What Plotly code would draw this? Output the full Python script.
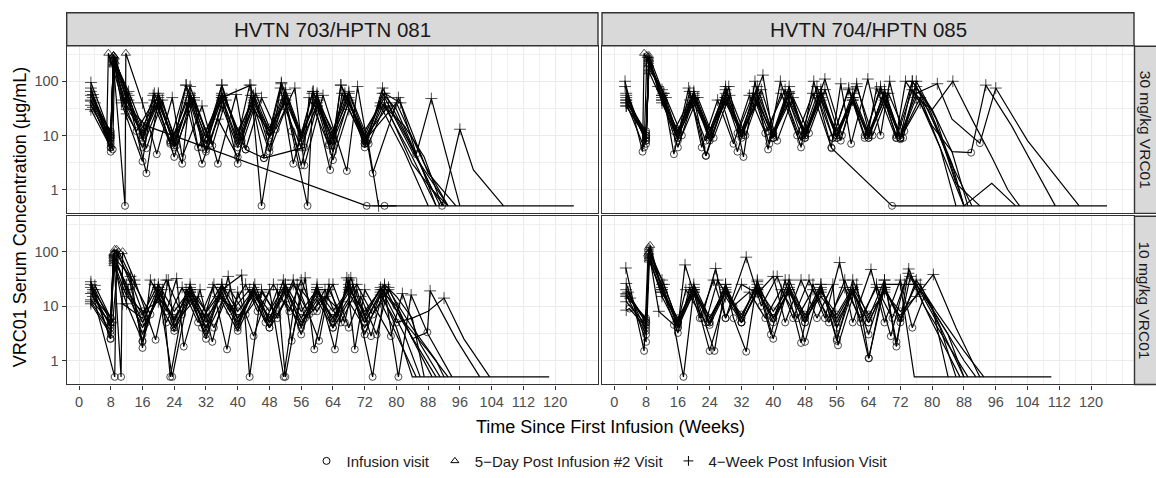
import plotly.graph_objects as go

# ---------------- data ----------------
studies = ["HVTN 703/HPTN 081", "HVTN 704/HPTN 085"]
doses = ["30 mg/kg VRC01", "10 mg/kg VRC01"]
x_tick_vals = [0, 8, 16, 24, 32, 40, 48, 56, 64, 72, 80, 88, 96, 104, 112, 120]
x_tick_text = ["0", "8", "16", "24", "32", "40", "48", "56", "64", "72", "80", "88", "96", "104", "112", "120"]
y_tick_vals = [1, 10, 100]
y_tick_text = ["1", "10", "100"]
visit_names = {"I": "Infusion visit", "P": "5\u2212Day Post Infusion #2 Visit", "W": "4\u2212Week Post Infusion Visit"}

# each participant: "week,concentration,visit" tokens (visit: I infusion, P 5-day post #2, W 4-week post, . other)
hvtn703_30 = [
    "3,95,W 8,10,I 8.7,300,P 12,60,W 16,12,I 19,60,W 24,7.5,I 27,85,W 32,9,I 36,85,W 40,9,I 43,85,W 48,12,I 51,95,W 56,10,I 59,65,W 64,8,I 66,85,W 72.5,7.5,I 76.5,75,W 82,12,. 87,2,. 91,0.5,.",
    "3,75,W 8,5,I 8.7,250,P 10.7,40,W 16,3.3,I 18.7,55,W 23,7.5,I 29,50,W 31,6,I 36,55,W 40,3,I 43.3,55,W 46.6,3.8,I 50.8,75,W 54,3,I 58.8,60,W 63.3,2.3,I 66.3,60,W 72,7,I 77,40,W 84,3,. 92,0.5,.",
    "3.5,57,W 8.5,5.5,I 9,280,P 12.5,45,W 17,2,I 20,50,W 26,3,I 28,60,W 33.6,6.5,I 37,45,W 42,5.5,I 46,50,W 49.6,13,I 54.4,75,W 56.8,2.8,I 61.5,55,W 67.5,2.2,I 70.2,80,W 74,2,I 80.5,50,W 88,2,. 95,0.5,.",
    "3,43,W 8,9,I 8.7,220,P 12,35,W 17,15,I 72.5,0.5,I 124.7,0.5,.",
    "3,30,W 8,6,I 8.7,200,P 11.6,0.5,I 11.8,330,P 16,40,W 19.6,4.5,I 23.5,50,W 26,4,I 31,35,W 35,3,I 39.6,57,W 42,5.5,I 46.6,3.8,I 56.8,6,I 58,50,W 63,6.5,I 67,55,W 73,7,I 77,35,W 84,4,. 90,0.5,.",
    "3.5,50,W 7,12,I 7.4,330,P 12,25,W 14.5,12,I 19,45,W 23,8,I 27,85,W 30,6,I 36,50,W 43.3,85,W 46,0.5,I 51,90,W 53.6,12,I 57.6,0.5,I 59,65,W 64,6.5,I 66,85,W 72.8,8,I 75.5,0.5,W 77,0.5,I 80,0.5,.",
    "4,40,W 8,11,I 8.7,260,P 12.5,65,W 16,14,I 20,55,W 24,6,I 28,50,W 32,5.5,I 36,85,W 40,10,I 44,55,W 48,6,I 52,55,W 56,9,I 60,55,W 64,10,I 68,50,W 72,7,I 76.5,60,W 80,30,. 86,3,. 90,0.5,.",
    "3,36,W 8,8,I 9,230,P 13,40,W 17,5.8,I 21,45,W 24.5,6.5,I 29,45,W 33,7,I 36.5,55,W 41,8,I 44.5,60,W 48,14,I 52,40,W 55,6,I 60,60,W 63,7,I 67,60,W 72,9,I 78,35,W 84,5,. 93,0.5,.",
    "3,55,W 8,9,I 8.7,270,P 12,50,W 16,10,I 20,45,W 24,6.5,I 28,55,W 32,9,I 36,45,W 40,7,I 44,40,W 48,10,I 52,60,W 56,8,I 60,35,W 64,9,I 68,60,W 72,10,I 77,60,W 81,40,W 85,4.5,I 88.8,48,W 96,0.5,.",
    "3,45,W 8,12,I 8.7,240,P 12,45,W 16,9,I 20,40,W 24,8,I 28,45,W 32,7,I 36,50,W 40,8,I 44,50,W 48,9,I 52,45,W 56,9,I 60,50,W 64,8,I 68,40,W 72,8,I 76,40,W 82,15,. 87,4,. 91.5,0.5,I 96,13,W 99.4,2.3,. 107,0.5,.",
    "3.5,33,W 8,7,I 8.7,300,P 11,45,W 16,11,I 19,35,W 23,7,I 27,40,W 31,3,I 35,20,W 40,4,I 44,30,W 48,12,I 52,45,W 56,2.8,I 60,35,W 64,3.5,I 68,30,W 72,8,I 80,40,W 87,3,. 93,0.5,.",
    "3,65,W 8,10,I 8.7,290,P 12.5,55,W 16,8,I 20,60,W 24,10,I 28,80,W 32,12,I 36,60,W 40,12,I 44,45,W 48,12,I 52,70,W 56,11,I 60,45,W 64,12,I 68,65,W 72,12,I 77,50,W 83,8,. 89,1,. 93,0.5,.",
    "4,28,W 8,6,I 8.7,210,P 12,30,W 16,6,I 20,35,W 24,4,I 28,40,W 32,5,I 36,35,W 40,6,I 44,35,W 48,5,I 52,30,W 56,6,I 60,40,W 64,5,I 68,45,W 72,6,I 76,35,W 82,5,. 88,0.5,.",
]

hvtn704_30 = [
    "2.7,100,W 7.1,5,I 7.5,330,P 12.3,60,W 15,4.5,I 18.7,75,W 23,4.2,I 28.8,80,W 32.5,4,I 35.4,100,W 38.7,5.5,I 41.8,100,W 47,6,I 50.2,100,W 54.6,6,I 57,90,W 59.6,7,I 63.8,110,W 67,10,I 69.3,100,W 72.7,9,I 76,100,W 81,20,. 88,0.5,.",
    "3,60,W 8,8,I 8.7,280,P 12,50,W 16,12,I 20,65,W 24,12,I 28,70,W 32,12,I 37.4,130,W 40,9,I 44,60,W 48,10,I 53,110,W 57.3,10,I 61,90,W 64,12,I 66,75,W 70.9,9,I 73.3,100,W 77,40,. 82,6,. 86,0.5,. 124,0.5,.",
    "3,45,W 8,10,I 8.7,250,P 12,45,W 16,6,I 20,50,W 23.1,4.2,I 28,50,W 31,11,I 35,60,W 38.7,12,I 42,60,W 46,10,I 50,60,W 54.7,5.8,I 69.9,0.5,I 86,0.5,.",
    "3,35,W 8,9,I 8.7,200,P 13,50,W 17,10,I 21,50,W 25,9,I 29,55,W 33,10,I 37,70,W 41,8,I 45,50,W 49,11,I 53,70,W 57,8,I 61,80,W 65,10,I 69,60,W 73,12,I 77,40,W 80,15,. 85,5,. 89.8,4.8,I 93.5,85,W 100,15,. 111,0.5,.",
    "3,50,W 8,11,I 8.7,230,P 12,55,W 16,11,I 20,60,W 24,10,I 28,60,W 32,10,I 36,60,W 40,11,I 44,65,W 48,11,I 52,70,W 56,10,I 60,60,W 64,11,I 68,60,W 72,10,I 76,60,W 81.3,90,W 85,20,. 92,7.2,I 96,75,W 104,8,. 117,0.5,.",
    "2.7,80,W 8,7,I 8.7,300,P 12,70,W 16,8,I 19,65,W 22,6,I 26,45,W 30,7,I 34,55,W 38,11,I 43,70,W 47,10,I 51,80,W 55,9,I 59,75,W 63,10,I 67,70,W 71,10,I 75,100,W 80,30,. 85,5,. 89,0.5,.",
    "3,40,W 7.5,6,I 8.2,300,P 11,80,W 15,12,I 19,45,W 23,8,I 27,45,W 31,5,I 35,60,W 39,7,I 43,50,W 47,8,I 51,55,W 55,9,I 59,70,W 63,9,I 67,80,W 71,9,I 75,70,W 79,30,. 84,4,. 90,0.5,.",
    "3,55,W 8,9,I 8.7,260,P 12,40,W 16,9,I 20,55,W 24,9,I 28,80,W 32,9,I 36,50,W 40,9,I 44,80,W 48,9,I 52,60,W 56,9,I 60,50,W 64,9,I 68,70,W 72,9,I 76,50,W 80,30,. 85.2,100,W 90,20,. 95,4,. 99,1,. 102,0.5,.",
    "3,35,W 8,10,I 8.7,170,P 12.5,60,W 16,10,I 20,40,W 24,10,I 28,50,W 32,12,I 36,80,W 40,10,I 44,40,W 48,10,I 52,60,W 56,10,I 60,50,W 64,10,I 68,60,W 72,8.5,I 76,80,W 82,10,. 86,1.3,. 92,0.5,.",
    "3,45,W 8,8,I 8.7,210,P 12,55,W 16,9,I 20,50,W 24,8,I 28,45,W 32,11,I 36,45,W 40,9,I 44,60,W 48,9,I 52,50,W 56,9,I 60,45,W 64,9,I 68,50,W 72,9,I 77,50,W 82,6,. 88,0.5,. 95,1.3,. 101,0.5,.",
    "3,40,W 8,12,I 8.7,150,P 12,45,W 16,12,I 20,50,W 24,12,I 28,40,W 32,11,I 36,40,W 40,11,I 44,45,W 48,12,I 52,45,W 56,12,I 60,45,W 64,10,I 68,45,W 72,9,I 75,100,W 79,35,. 85,3,. 88,0.5,.",
]

hvtn703_10 = [
    "3,28,W 8,2.5,I 8.7,80,P 13,35,W 16,1.7,I 18,30,W 22,8,I 24.6,32,W 26.4,1.8,I 30.5,20,W 33.6,2.2,I 37.6,35,W 40,5,I 44.3,25,W 48,5,I 51.5,30,W 53.6,2.3,I 57,33,W 59.3,1.6,I 63,25,W 66,5,I 70,20,W 73.6,2.8,I 77,23,W 81,6,. 86,1.5,. 90,0.5,.",
    "3,22,W 9,0.5,I 9.5,110,P 13,25,W 16,2.2,I 20,20,W 23.5,0.5,I 28,22,W 32,4,I 36,20,W 41,37,W 43,0.5,I 46,20,W 50,6,I 54,30,W 57,6,I 60,25,W 64.5,1.6,I 67.5,33,W 69.5,1.6,I 72,20,W 78.6,2.8,I 81.5,17,W 86,2,. 91,0.5,.",
    "3.5,18,W 8,4,I 8.7,90,P 10.6,0.5,I 11,100,P 14,30,W 19.3,2.4,I 22.5,30,W 24,4,I 28,18,W 31,4,I 33.7,22,W 37.3,1.6,I 40,18,W 44,2.8,I 48,20,W 51.6,0.5,I 55,25,W 60.5,2.3,I 63,20,W 67,5,I 69,25,W 74,0.5,I 77,20,W 80.5,0.5,I 83.7,16,W 88,3,. 94,0.5,.",
    "3,13,W 8,5,I 8.7,70,P 12,25,W 16,3,I 20,18,W 24,5.5,I 28,20,W 32,3.5,I 36,18,W 40,4,I 44,20,W 48,4,I 52,25,W 56,4,I 60,22,W 64,5,I 68,25,W 72,5,I 76,18,W 80,4,. 84,0.5,. 118.5,0.5,.",
    "3,11,W 8,3,I 8.7,60,P 12,11,W 16,2.3,I 20,22,W 24,4,I 28,15,W 32,2.5,I 36,25,W 40,4.5,I 44,22,W 48,5,I 52,18,W 56,3,I 60,20,W 64,4,I 68,30,W 72,3,I 76.5,20,W 82,5,. 88,1.5,. 93,0.5,.",
    "4,20,W 8,5,I 8.7,85,P 12.5,20,W 16,5,I 20,22,W 24,5,I 28,25,W 32,5,I 36,22,W 40,6,I 44,18,W 48,6,I 52,22,W 56,6,I 60,18,W 64,6,I 68,22,W 72,7,I 76,20,W 80,10,I 84,2.5,. 87.8,3.3,I 88.5,19,W 95,2.5,. 101,0.5,.",
    "3.5,15,W 8,6,I 8.7,95,P 12,18,W 16,4,I 20,15,W 24,6,I 28,18,W 32,6,I 36,15,W 40,6,I 44,16,W 48,6,I 52,20,W 56,5,I 60,15,W 64,6,I 68,18,W 72,5,I 76,16,W 80,5,I 84,6,. 88,8,. 92,14,W 97,2.5,. 103.5,0.5,.",
    "3,25,W 7.9,2.5,I 8.7,75,P 11,11,W 16,6,I 19,25,W 22,5,I 26,22,W 30,5,I 34,25,W 38,8,I 42,25,W 45,8,I 49,25,W 53,8,I 56,30,W 59,8,I 62,20,W 65,6,I 68.5,33,W 72,6,I 76,22,W 82,3,. 86,0.5,.",
    "3,17,W 8,4.5,I 9,110,P 13,30,W 17,5,I 21,20,W 23,0.5,I 27,20,W 31,6,I 35,15,W 39,9,I 43,20,W 47,5,I 50,20,W 52,0.5,I 56,20,W 60,8,I 64,25,W 68,4,I 71,15,W 75,3,I 78,22,W 84,2.5,. 89,0.5,.",
    "4,24,W 8.5,5,I 10,100,P 14,25,W 18,7,I 22,30,W 26,7,I 30,15,W 34,4,I 38,20,W 42,7,I 46,18,W 50,7,I 54,25,W 58,7,I 62,15,W 66,8,I 70,25,W 74,7,I 78,20,W 84,4,. 90,1,. 92,0.5,.",
    "3,12,W 8,3.5,I 8.7,65,P 12,15,W 16,8,I 20,12,W 24,3.5,I 28,13,W 32,3,I 36,12,W 40,3.5,I 44,14,W 48,4,I 52,12,W 56,4.5,I 60,13,W 64,4,I 68,12,W 72,4,I 76,12,W 80,3,. 85,0.5,.",
    "3.5,20,W 8,6,I 8.7,90,P 12,20,W 16,7,I 20,25,W 24,8,I 28,20,W 32,8,I 36,25,W 40,8,I 44,20,W 48,8,I 52,25,W 56,8,I 60,20,W 64,8,I 68,20,W 72,8,I 77,25,W 80,15,. 84,6,. 87,0.5,.",
]

hvtn704_10 = [
    "2.9,50,W 7.5,1.5,I 8.5,90,P 12,25,W 16,4,I 17.8,57,W 22,6,I 25.5,49,W 28,6,I 33.2,79,W 37,10,I 41,35,W 45,6,I 49,30,W 53,6,I 56.7,63,W 60,5,I 64.6,47,W 68,5,I 72,30,W 75,4,I 78,15,. 84,3,. 88,0.5,.",
    "3,26,W 8,2.2,I 9,130,P 12,20,W 16,3.2,I 19,22,W 21.5,6,I 25,30,W 28,6,I 32,25,W 36,17,I 40,35,W 43,5,I 47,30,W 51,6,I 55,25,W 56.3,1.9,I 61,25,W 64.1,1.1,I 68,30,W 71,1.8,I 74.1,48,W 78,10,. 85,1.5,. 89,0.5,.",
    "3,16,W 8,3,I 8.7,100,P 11.2,8,W 15,4.5,I 17.4,0.5,I 20,20,W 25.2,1.5,I 28,25,W 30,6,I 33.2,1.45,I 36,30,W 40,2.5,I 44,25,W 48,2.2,I 52,25,W 56,2.5,I 60,20,W 64,3,I 68,25,W 72,25,W 75.5,0.5,. 110,0.5,.",
    "3,8.4,W 3.8,9,I 8,4,I 8.7,80,P 12,15,W 16,4,I 20,18,W 24,5,I 28,20,W 32,5,I 36,20,W 40,5,I 44,20,W 48,5,I 52,22,W 56,4,I 60,20,W 64,5,I 68,22,W 72,6,I 76,25,W 82,4,. 86,0.5,.",
    "3,20,W 8,5,I 8.7,95,P 12,30,W 16,5,I 20,25,W 24,6,I 28,22,W 32,6,I 36,28,W 40,6,I 44,30,W 48,6,I 52,25,W 56,2.3,I 60,30,W 64,6,I 68,30,W 71,2.2,I 74.5,35,W 80,5,. 85,1,. 87,0.5,.",
    "3.5,18,W 8,3.5,I 8.7,110,P 12.5,25,W 16,5,I 20,20,W 24,4.5,I 28,18,W 32,6,I 36,25,W 39.4,3,I 43,30,W 47,2.1,I 50,25,W 54,5,I 58,30,W 62,5,I 66,25,W 69.6,2.8,I 73,25,W 77,25,W 83,3,. 88,0.5,.",
    "3,17,W 8,5,I 8.7,75,P 12,18,W 16,6,I 20,20,W 24,6,I 28,18,W 32,7,I 36,22,W 40,8,I 44,22,W 48,7,I 52,18,W 56,7,I 60,22,W 64,7,I 68,18,W 72,8,I 76,15,W 80.3,38,W 86,4,. 92,0.5,.",
    "3,15,W 8,6,I 8.7,85,P 12,22,W 16,5,I 20,22,W 24,5,I 28,25,W 32,5,I 36,20,W 40,6,I 44,18,W 48,5,I 52,20,W 56,5,I 60,18,W 64,5,I 68,20,W 72,6,I 77,20,W 83,4,. 88,1,. 91,0.5,.",
    "3,12,W 8,4.5,I 8.7,120,P 12,20,W 16,4.5,I 20,18,W 24,1.5,I 28,15,W 32,5,I 36,18,W 40,6,I 44,20,W 48,6,I 52,15,W 56,6,I 60,20,W 64,1.1,I 68,22,W 72,5,I 76,30,W 81,8,. 88,1.5,. 93,0.5,.",
    "4,14,W 8,5.5,I 8.7,70,P 12,18,W 16,5,I 18,20,W 23,5,I 26,30,W 30,10,I 34,18,W 38,6,I 42,20,W 46,6,I 50,20,W 54,6,I 58,22,W 62,6,I 66,22,W 70,6,I 74,40,W 80,10,. 84,0.5,.",
]

# ---------------- styling ----------------
W_PX, H_PX = 1156, 478
def fx(p):
    return p / W_PX
def fy(p):
    return 1 - p / H_PX

X_DOM = [[fx(66.7), fx(598)], [fx(602), fx(1134)]]
Y_DOM = [[fy(217), fy(47)], [fy(391), fy(220)]]
X_RANGE = [-3.1, 130.8]
Y_RANGE = [-0.44, 2.648]

SYM = {"I": "circle-open", "P": "triangle-up-open", "W": "cross-thin-open", ".": "circle"}
SIZE = {"I": 7, "P": 8, "W": 8.5, ".": 0}

fig = go.Figure()

grid = [[hvtn703_30, hvtn704_30], [hvtn703_10, hvtn704_10]]
for r in range(2):
    for c in range(2):
        idx = r * 2 + c + 1
        xa = "x" if idx == 1 else f"x{idx}"
        ya = "y" if idx == 1 else f"y{idx}"
        for subj in grid[r][c]:
            xs, ys, syms, sizes = [], [], [], []
            for tok in subj.split():
                w, v, k = tok.split(",")
                xs.append(float(w))
                ys.append(float(v))
                syms.append(SYM[k])
                sizes.append(SIZE[k])
            fig.add_trace(go.Scatter(
                x=xs, y=ys, mode="lines+markers", xaxis=xa, yaxis=ya,
                line=dict(color="black", width=1.2),
                marker=dict(symbol=syms, size=sizes, color="black",
                            line=dict(color="black", width=1)),
                showlegend=False, hoverinfo="skip"))

for k in ["I", "P", "W"]:
    fig.add_trace(go.Scatter(
        x=[None], y=[None], mode="markers", name=visit_names[k],
        marker=dict(symbol=SYM[k], size=7, color="black", line=dict(color="black", width=1)),
        showlegend=True))

x_minor = [4, 12, 20, 28, 36, 44, 52, 60, 68, 76, 84, 92, 100, 108, 116, 124, 128]
y_minor = [0.3162, 3.162, 31.62, 316.2]

layout = dict(
    width=W_PX, height=H_PX, margin=dict(l=0, r=0, t=0, b=0),
    paper_bgcolor="white", plot_bgcolor="white",
    font=dict(family="Liberation Sans, Arial, sans-serif", color="#1A1A1A"),
    showlegend=True,
    legend=dict(orientation="h", x=fx(600), xanchor="center", y=fy(469), yanchor="middle",
                font=dict(size=15, color="#1A1A1A"), bgcolor="rgba(0,0,0,0)",
                itemwidth=30, tracegroupgap=0),
)

for r in range(2):
    for c in range(2):
        idx = r * 2 + c + 1
        xk = "xaxis" if idx == 1 else f"xaxis{idx}"
        yk = "yaxis" if idx == 1 else f"yaxis{idx}"
        ya = "y" if idx == 1 else f"y{idx}"
        xa = "x" if idx == 1 else f"x{idx}"
        bottom = r == 1
        left = c == 0
        layout[xk] = dict(
            domain=X_DOM[c], anchor=ya, range=X_RANGE,
            tickmode="array", tickvals=x_tick_vals, ticktext=x_tick_text,
            showticklabels=bottom, ticks="outside" if bottom else "",
            ticklen=4, tickwidth=1.1, tickcolor="#333333",
            tickfont=dict(size=14.5, color="#4D4D4D"),
            showgrid=True, gridcolor="#EBEBEB", gridwidth=1.1,
            minor=dict(tickvals=x_minor, showgrid=True, gridcolor="#EFEFEF", gridwidth=0.8, ticks=""),
            showline=True, mirror=True, linecolor="#333333", linewidth=1.4,
            zeroline=False, fixedrange=True)
        layout[yk] = dict(
            domain=Y_DOM[r], anchor=xa, type="log", range=Y_RANGE,
            tickmode="array", tickvals=y_tick_vals, ticktext=y_tick_text,
            showticklabels=left, ticks="outside" if left else "",
            ticklen=4, tickwidth=1.1, tickcolor="#333333",
            tickfont=dict(size=14.5, color="#4D4D4D"),
            showgrid=True, gridcolor="#EBEBEB", gridwidth=1.1,
            minor=dict(tickvals=y_minor, showgrid=True, gridcolor="#EFEFEF", gridwidth=0.8, ticks=""),
            showline=True, mirror=True, linecolor="#333333", linewidth=1.4,
            zeroline=False, fixedrange=True)

shapes = []
annotations = []
# top strips
for c in range(2):
    shapes.append(dict(type="rect", xref="paper", yref="paper",
                       x0=X_DOM[c][0], x1=X_DOM[c][1], y0=fy(46.5), y1=fy(13),
                       fillcolor="#D9D9D9", line=dict(color="#333333", width=1.4), layer="above"))
    annotations.append(dict(text=studies[c], xref="paper", yref="paper",
                            x=(X_DOM[c][0] + X_DOM[c][1]) / 2, y=fy(29.5),
                            showarrow=False, xanchor="center", yanchor="middle",
                            font=dict(size=20.5, color="#1A1A1A")))
# right strips
for r in range(2):
    shapes.append(dict(type="rect", xref="paper", yref="paper",
                       x0=fx(1134.5), x1=fx(1160), y0=Y_DOM[r][0], y1=Y_DOM[r][1],
                       fillcolor="#D9D9D9", line=dict(color="#333333", width=1.4), layer="above"))
    annotations.append(dict(text=doses[r], xref="paper", yref="paper",
                            x=fx(1145), y=(Y_DOM[r][0] + Y_DOM[r][1]) / 2,
                            showarrow=False, xanchor="center", yanchor="middle", textangle=90,
                            font=dict(size=15.5, color="#1A1A1A")))
# axis titles
annotations.append(dict(text="Time Since First Infusion (Weeks)", xref="paper", yref="paper",
                        x=fx(610), y=fy(434), showarrow=False, xanchor="center", yanchor="middle",
                        font=dict(size=18, color="#000000")))
annotations.append(dict(text="VRC01 Serum Concentration (\u00b5g/mL)", xref="paper", yref="paper",
                        x=fx(20), y=fy(221), showarrow=False, xanchor="center", yanchor="middle",
                        textangle=-90, font=dict(size=18, color="#000000")))

layout["shapes"] = shapes
layout["annotations"] = annotations
fig.update_layout(**layout)
fig.write_html("out.html")
